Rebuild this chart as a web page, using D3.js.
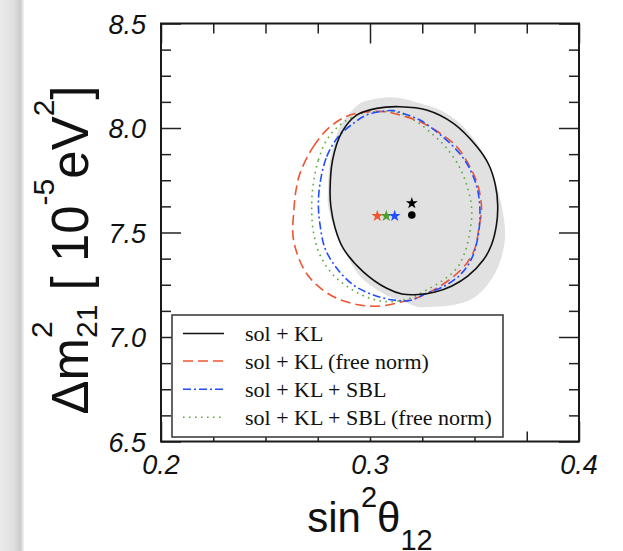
<!DOCTYPE html>
<html>
<head>
<meta charset="utf-8">
<script src="https://cdn.jsdelivr.net/npm/d3@7"></script>
<style>
  html, body { margin: 0; padding: 0; background: #fff; }
  svg { display: block; }
  text { font-family: "Liberation Sans", Arial, Helvetica, sans-serif; fill: #111; }
  .serif { font-family: "Liberation Serif", "Times New Roman", serif; }
</style>
</head>
<body>
<svg id="chart" width="623" height="551"></svg>
<script>
// ---- data ----
const xMajor = [0.2, 0.3, 0.4];
const xMinor = [0.225, 0.25, 0.275, 0.325, 0.35, 0.375];
const xTickLabels = ["0.2", "0.3", "0.4"];
const yMajor = [6.5, 7.0, 7.5, 8.0, 8.5];
const yMinor = [6.625, 6.75, 6.875, 7.125, 7.25, 7.375, 7.625, 7.75, 7.875, 8.125, 8.25, 8.375];
const yTickLabels = ["6.5", "7.0", "7.5", "8.0", "8.5"];

// shaded region (grey)
const shaded = [
  [0.2896, 8.062], [0.2952, 8.118], [0.3016, 8.137], [0.3096, 8.147], [0.3167, 8.139],
  [0.3239, 8.118], [0.3335, 8.086], [0.3431, 8.022], [0.3511, 7.927], [0.3574, 7.815],
  [0.3612, 7.703], [0.3638, 7.584], [0.3646, 7.472], [0.3622, 7.360], [0.3574, 7.265],
  [0.3494, 7.185], [0.3399, 7.153], [0.3303, 7.145], [0.3223, 7.145], [0.3167, 7.167],
  [0.3096, 7.191], [0.3000, 7.249], [0.2943, 7.301], [0.2872, 7.424], [0.2824, 7.536],
  [0.2799, 7.632], [0.2799, 7.703], [0.2809, 7.847], [0.2833, 7.943], [0.2861, 8.014]
];

// sol + KL
const solKL = [
  [0.2809, 7.703], [0.2821, 7.847], [0.2866, 7.981], [0.2936, 8.062], [0.3032, 8.094],
  [0.3144, 8.102], [0.3271, 8.086], [0.3399, 8.022], [0.3511, 7.911], [0.3569, 7.823],
  [0.3600, 7.727], [0.3611, 7.632], [0.3605, 7.536], [0.3581, 7.440], [0.3542, 7.368],
  [0.3469, 7.292], [0.3392, 7.244], [0.3311, 7.215], [0.3230, 7.203], [0.3153, 7.206],
  [0.3080, 7.233], [0.2968, 7.312], [0.2872, 7.424], [0.2833, 7.522], [0.2813, 7.622]
];

// sol + KL (free norm)
const solKLfree = [
  [0.2665, 7.783], [0.2729, 7.911], [0.2809, 8.006], [0.2904, 8.062], [0.3000, 8.078],
  [0.3072, 8.078], [0.3144, 8.062], [0.3239, 8.030], [0.3335, 7.975], [0.3415, 7.911],
  [0.3478, 7.815], [0.3518, 7.719], [0.3534, 7.608], [0.3523, 7.536], [0.3502, 7.424],
  [0.3463, 7.353], [0.3399, 7.289], [0.3319, 7.233], [0.3239, 7.193], [0.3144, 7.166],
  [0.3048, 7.148], [0.2952, 7.153], [0.2841, 7.185], [0.2745, 7.249], [0.2681, 7.329],
  [0.2633, 7.472], [0.2636, 7.608], [0.2646, 7.703]
];

// sol + KL + SBL
const solKLsbl = [
  [0.2761, 7.735], [0.2793, 7.863], [0.2848, 7.958], [0.2920, 8.022], [0.2984, 8.062],
  [0.3048, 8.078], [0.3111, 8.083], [0.3167, 8.067], [0.3239, 8.038], [0.3319, 7.982],
  [0.3399, 7.911], [0.3463, 7.831], [0.3511, 7.719], [0.3526, 7.608], [0.3518, 7.488],
  [0.3487, 7.377], [0.3431, 7.297], [0.3351, 7.241], [0.3271, 7.209], [0.3191, 7.175],
  [0.3111, 7.177], [0.3016, 7.201], [0.2920, 7.249], [0.2841, 7.329], [0.2785, 7.424],
  [0.2761, 7.536], [0.2753, 7.632]
];

// sol + KL + SBL (free norm)
const solKLsblFree = [
  [0.2729, 7.735], [0.2753, 7.847], [0.2793, 7.943], [0.2856, 8.014], [0.2936, 8.062],
  [0.3016, 8.078], [0.3096, 8.078], [0.3144, 8.070], [0.3223, 8.030], [0.3303, 7.967],
  [0.3367, 7.903], [0.3431, 7.807], [0.3470, 7.703], [0.3487, 7.608], [0.3478, 7.504],
  [0.3455, 7.408], [0.3415, 7.329], [0.3351, 7.273], [0.3271, 7.225], [0.3191, 7.185],
  [0.3096, 7.169], [0.3000, 7.185], [0.2904, 7.233], [0.2824, 7.297], [0.2761, 7.392],
  [0.2729, 7.504], [0.2721, 7.632]
];

// best fit points
const stars = [
  { x: 0.3200, y: 7.640, color: "#000000" },
  { x: 0.3035, y: 7.579, color: "#ef5533" },
  { x: 0.3078, y: 7.579, color: "#4f9e32" },
  { x: 0.3118, y: 7.579, color: "#1f4fff" }
];
const dot = { x: 0.3200, y: 7.584 };

const legendLabels = ["sol + KL", "sol + KL (free norm)", "sol + KL + SBL", "sol + KL + SBL (free norm)"];

// ---- chart ----
const svg = d3.select("#chart");
const x = d3.scaleLinear().domain([0.2, 0.4]).range([161, 579]);
const y = d3.scaleLinear().domain([6.5, 8.5]).range([441.5, 23.5]);

// page-edge shadow on the left
const defs = svg.append("defs");
const grad = defs.append("linearGradient").attr("id", "edge").attr("x1", 0).attr("x2", 1);
grad.append("stop").attr("offset", 0).attr("stop-color", "#ececec");
grad.append("stop").attr("offset", 0.55).attr("stop-color", "#e0e0e0");
grad.append("stop").attr("offset", 0.85).attr("stop-color", "#cbcbcb");
grad.append("stop").attr("offset", 1).attr("stop-color", "#f4f4f4");
svg.append("rect").attr("x", 0).attr("y", 0).attr("width", 24).attr("height", 551).attr("fill", "url(#edge)");

const closed = d3.line().x((d) => x(d[0])).y((d) => y(d[1])).curve(d3.curveCatmullRomClosed.alpha(0.5));

svg.append("path").datum(shaded).attr("d", closed).attr("fill", "#e1e1e1").attr("stroke", "none");

const series = [
  { data: solKL, color: "#111", dash: null, w: 1.6 },
  { data: solKLfree, color: "#ef5533", dash: "10,5", w: 1.6 },
  { data: solKLsbl, color: "#1f4fff", dash: "8,3,2,3", w: 1.6 },
  { data: solKLsblFree, color: "#5aa83e", dash: "1.6,4.4", w: 1.6 }
];
// draw order: dotted/dash first, black on top
[series[3], series[1], series[2], series[0]].forEach((s) => {
  svg.append("path").datum(s.data).attr("d", closed)
    .attr("fill", "none").attr("stroke", s.color).attr("stroke-width", s.w)
    .attr("stroke-dasharray", s.dash);
});

const star = d3.symbol().type(d3.symbolStar).size(44);
svg.selectAll("path.star").data(stars).join("path").attr("class", "star")
  .attr("transform", (d) => `translate(${x(d.x)},${y(d.y)})`)
  .attr("d", star).attr("fill", (d) => d.color);
svg.append("circle").attr("cx", x(dot.x)).attr("cy", y(dot.y)).attr("r", 3.8).attr("fill", "#000");

// ticks on all four sides, pointing inwards
function ticks(axis, tr, vals, len) {
  svg.append("g").attr("transform", tr)
    .call(axis.tickValues(vals).tickSize(-len).tickFormat(""))
    .call((g) => g.select(".domain").remove())
    .call((g) => g.selectAll("line").attr("stroke", "#222").attr("stroke-width", 1.5));
}
ticks(d3.axisBottom(x), `translate(0,${y(6.5)})`, xMajor, 20);
ticks(d3.axisBottom(x), `translate(0,${y(6.5)})`, xMinor, 10);
ticks(d3.axisTop(x), `translate(0,${y(8.5)})`, xMajor, 20);
ticks(d3.axisTop(x), `translate(0,${y(8.5)})`, xMinor, 10);
ticks(d3.axisLeft(y), `translate(${x(0.2)},0)`, yMajor, 20);
ticks(d3.axisLeft(y), `translate(${x(0.2)},0)`, yMinor, 10);
ticks(d3.axisRight(y), `translate(${x(0.4)},0)`, yMajor, 20);
ticks(d3.axisRight(y), `translate(${x(0.4)},0)`, yMinor, 10);

svg.append("rect").attr("x", x(0.2)).attr("y", y(8.5))
  .attr("width", x(0.4) - x(0.2)).attr("height", y(6.5) - y(8.5))
  .attr("fill", "none").attr("stroke", "#1a1a1a").attr("stroke-width", 2);

// tick labels
svg.selectAll("text.xl").data(xMajor).join("text").attr("class", "xl")
  .attr("x", (d) => x(d)).attr("y", y(6.5) + 32).attr("text-anchor", "middle")
  .attr("font-size", 27).attr("font-style", "italic").text((d, i) => xTickLabels[i]);
svg.selectAll("text.yl").data(yMajor).join("text").attr("class", "yl")
  .attr("x", 146).attr("y", (d) => y(d) + 10).attr("text-anchor", "end")
  .attr("font-size", 27).attr("font-style", "italic").text((d, i) => yTickLabels[i]);

// axis titles
const xt = svg.append("text").attr("x", 370).attr("y", 531.5).attr("text-anchor", "middle").attr("font-size", 42);
xt.append("tspan").text("sin");
xt.append("tspan").attr("font-size", 29).attr("dy", -25).text("2");
xt.append("tspan").attr("dy", 25).text("θ");
xt.append("tspan").attr("font-size", 29).attr("dy", 18).text("12");

const yt = svg.append("text").attr("transform", "translate(88,250) rotate(-90)")
  .attr("text-anchor", "middle").attr("font-size", 51);
yt.append("tspan").text("Δm");
yt.append("tspan").attr("font-size", 30).attr("dy", -36).text("2");
yt.append("tspan").attr("font-size", 30).attr("dx", -16.7).attr("dy", 45).text("21");
yt.append("tspan").attr("dy", -9).text(" [ 10");
yt.append("tspan").attr("font-size", 30).attr("dy", -34).text("-5");
yt.append("tspan").attr("dy", 34).text("eV");
yt.append("tspan").attr("font-size", 30).attr("dy", -34).text("2");
yt.append("tspan").attr("dy", 34).text("]");

// legend
const lg = svg.append("g");
lg.append("rect").attr("x", 172).attr("y", 315).attr("width", 331).attr("height", 122)
  .attr("fill", "#fff").attr("stroke", "#333").attr("stroke-width", 1.5);
const rowY = [333.5, 361, 389.3, 417.3];
series.forEach((s, i) => {
  lg.append("line").attr("x1", 183).attr("x2", 224).attr("y1", rowY[i]).attr("y2", rowY[i])
    .attr("stroke", s.color).attr("stroke-width", s.w).attr("stroke-dasharray", s.dash);
  lg.append("text").attr("class", "serif").attr("x", 245).attr("y", rowY[i] + 7.5)
    .attr("font-size", 22).text(legendLabels[i]);
});
</script>
</body>
</html>
